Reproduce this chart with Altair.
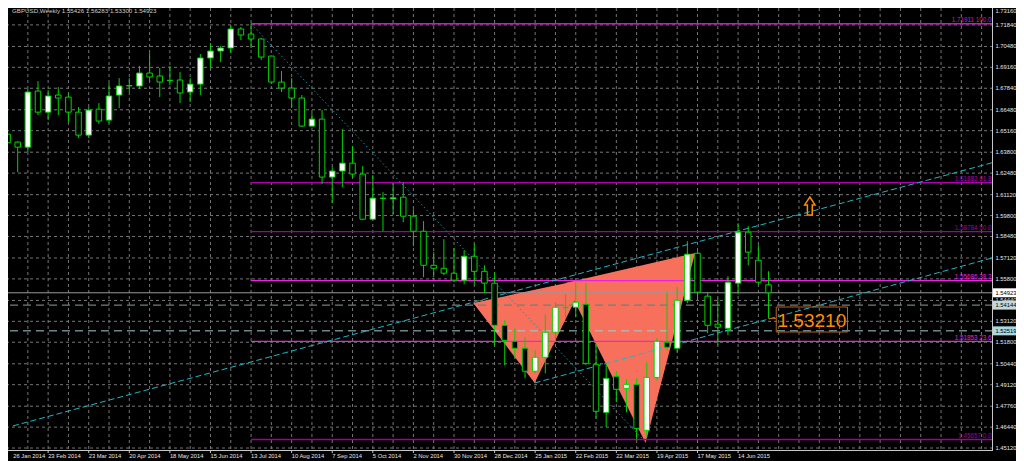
import altair as alt
import pandas as pd

# ---------------- data ----------------
opens = [1.6494, 1.6444, 1.6412, 1.6766, 1.6633, 1.6741, 1.6728, 1.6633, 1.6488, 1.6652,
         1.6583, 1.6741, 1.6801, 1.6798, 1.6880, 1.6861, 1.6834, 1.6836, 1.6760, 1.6810,
         1.6975, 1.7019, 1.7038, 1.7158, 1.7126, 1.7095, 1.6987, 1.6823, 1.6785, 1.6722,
         1.6545, 1.6589, 1.6223, 1.6261, 1.6311, 1.6242, 1.5957, 1.6090, 1.6085, 1.6096,
         1.5976, 1.5881, 1.5666, 1.5647, 1.5616, 1.5572, 1.5723, 1.5628, 1.5553, 1.5287,
         1.5186, 1.5142, 1.4997, 1.5085, 1.5243, 1.5398, 1.5401, 1.5420, 1.5041, 1.4737,
         1.4965, 1.4889, 1.4914, 1.4624, 1.4958, 1.5180, 1.5142, 1.5445, 1.5742, 1.5471,
         1.5294, 1.5268, 1.5553, 1.5875, 1.5698, 1.55426]
highs = [1.6627, 1.6450, 1.6779, 1.6829, 1.6772, 1.6791, 1.6753, 1.6665, 1.6665, 1.6690,
         1.6817, 1.6848, 1.6848, 1.6924, 1.7006, 1.6912, 1.6924, 1.6886, 1.6848, 1.7000,
         1.7070, 1.7051, 1.7183, 1.7171, 1.71911, 1.7100, 1.6990, 1.6893, 1.6848, 1.6741,
         1.6627, 1.6646, 1.6286, 1.6526, 1.6419, 1.6292, 1.6235, 1.6128, 1.6185, 1.6191,
         1.6020, 1.5945, 1.5749, 1.5831, 1.5774, 1.5761, 1.5799, 1.5666, 1.5622, 1.5319,
         1.5268, 1.5211, 1.5129, 1.5357, 1.5433, 1.5483, 1.5559, 1.5553, 1.5173, 1.5047,
         1.4997, 1.4946, 1.4952, 1.5053, 1.5205, 1.5496, 1.5528, 1.5818, 1.5755, 1.5496,
         1.5458, 1.5597, 1.5932, 1.5913, 1.5793, 1.56283]
lows = [1.6420, 1.6254, 1.6381, 1.6614, 1.6583, 1.6614, 1.6570, 1.6469, 1.6469, 1.6558,
        1.6564, 1.6659, 1.6760, 1.6779, 1.6823, 1.6728, 1.6804, 1.6690, 1.6697, 1.6741,
        1.6912, 1.6949, 1.7006, 1.7088, 1.7038, 1.6962, 1.6810, 1.6760, 1.6659, 1.6539,
        1.6539, 1.6178, 1.6058, 1.6159, 1.6223, 1.5951, 1.5951, 1.5881, 1.5989, 1.5938,
        1.5787, 1.5591, 1.5591, 1.5603, 1.5559, 1.5546, 1.5546, 1.5490, 1.5161, 1.5034,
        1.5079, 1.4952, 1.4984, 1.4984, 1.5192, 1.5332, 1.5338, 1.5034, 1.4700, 1.4643,
        1.4801, 1.4737, 1.45657, 1.4580, 1.4939, 1.5129, 1.5116, 1.5426, 1.5445, 1.5237,
        1.5161, 1.5224, 1.5483, 1.5666, 1.5546, 1.53300]
closes = [1.6440, 1.6412, 1.6760, 1.6633, 1.6735, 1.6722, 1.6633, 1.6488, 1.6646, 1.6577,
          1.6735, 1.6798, 1.6799, 1.6880, 1.6855, 1.6823, 1.6832, 1.6754, 1.6810, 1.6975,
          1.7019, 1.7038, 1.7158, 1.7120, 1.7095, 1.6981, 1.6823, 1.6785, 1.6722, 1.6545,
          1.6589, 1.6223, 1.6261, 1.6311, 1.6242, 1.5957, 1.6090, 1.6088, 1.6092, 1.5976,
          1.5881, 1.5666, 1.5647, 1.5616, 1.5572, 1.5723, 1.5628, 1.5553, 1.5287, 1.5192,
          1.5142, 1.4997, 1.5085, 1.5243, 1.5401, 1.5401, 1.5433, 1.5047, 1.4744, 1.4952,
          1.4883, 1.4914, 1.4636, 1.4958, 1.5186, 1.5148, 1.5445, 1.5736, 1.5496, 1.5287,
          1.5275, 1.5559, 1.5875, 1.5749, 1.5559, 1.54923]

# bottom axis labels (candle index -> date)
date_tick_index = [0, 4, 8, 12, 16, 20, 24, 28, 32, 36, 40, 44, 48, 52, 56, 60, 64, 68, 72]
date_tick_text = ["26 Jan 2014", "23 Feb 2014", "23 Mar 2014", "20 Apr 2014", "18 May 2014",
                  "15 Jun 2014", "13 Jul 2014", "10 Aug 2014", "7 Sep 2014", "5 Oct 2014",
                  "2 Nov 2014", "30 Nov 2014", "28 Dec 2014", "25 Jan 2015", "22 Feb 2015",
                  "22 Mar 2015", "19 Apr 2015", "17 May 2015", "14 Jun 2015"]
# vertical grid every two candles
grid_index = list(range(0, 98, 2))

# right axis labels
price_ticks = [1.73160, 1.71840, 1.70480, 1.69160, 1.67840, 1.66480, 1.65160, 1.63800,
               1.62480, 1.61120, 1.59800, 1.58480, 1.57120, 1.55800, 1.54440, 1.53120,
               1.51800, 1.50440, 1.49120, 1.47760, 1.46440, 1.45120]

# Fibonacci levels
fib_levels = [1.71911, 1.61882, 1.58784, 1.55686, 1.51853, 1.45657]
fib_tags = ["100.0", "61.8", "50.0", "38.2", "23.6", "0.0"]
fib_colors = ["#d014d0", "#b000b0", "#a000a0", "#ec22e0", "#ec22e0", "#a000a0"]
fib_start_index = 24

# harmonic pattern triangles: vertices as (candle index, price)
tri_index = [[45.90, 51.95, 56.93], [54.98, 62.88, 67.76]]
tri_price = [[1.54278, 1.49226, 1.55793], [1.55540, 1.45436, 1.57435]]

# channel (dashed cyan) lines: start/end
chan_index = [[0.537, 97.02], [51.95, 97.02]]
chan_price = [[1.46516, 1.63132], [1.49226, 1.57120]]

# dotted diagonal
diag_index = [24.0, 62.68]
diag_price = [1.71911, 1.45630]

# horizontal price lines and their right-axis boxes
hline_price = [1.54923, 1.54144, 1.52519]
hline_label = ["1.54923", "1.54144", "1.52519"]

# orange price label and arrow
label_value = "1.53210"
label_index = [75.76, 82.78]
label_price = [1.52447, 1.54025]
arrow_index = 79.07
arrow_price = 1.60404

title_text = "GBPUSD,Weekly  1.55426 1.56283 1.53300 1.54923"

# ---------------- layout ----------------
W, H = 985, 443          # plot area (svg total must stay <= 1008 px wide)
PADR = 1008 - W
XDOM = [0.537, 0.537 + W / 10.2505]
YDOM = [1.44932, 1.72907]
GREEN = "#00d400"
GRID = "#767676"
AXC = "#c8c8c8"
FONT = "Liberation Sans"
YLAB_FS = 5.8

xs = alt.Scale(domain=XDOM, nice=False, zero=False)
ys = alt.Scale(domain=YDOM, nice=False, zero=False)


def X(f):
    return alt.X(f, scale=xs, axis=None, title=None)


def Y(f):
    return alt.Y(f, scale=ys, axis=None, title=None)


candles = pd.DataFrame({"i": list(range(len(opens))), "open": opens, "high": highs,
                        "low": lows, "close": closes})

# ---- grid and hand-drawn axes ----
vgrid = alt.Chart(pd.DataFrame({"g": grid_index})).mark_rule(
    color=GRID, strokeWidth=1, strokeDash=[3, 3], clip=True).encode(x=X("g:Q"))
hgrid = alt.Chart(pd.DataFrame({"p": price_ticks})).mark_rule(
    color=GRID, strokeWidth=1, strokeDash=[3, 3], clip=True).encode(y=Y("p:Q"))

pt_df = pd.DataFrame({"p": price_ticks})
ylabels = alt.Chart(pt_df).transform_calculate(
    py=f"min(datum.p, {YDOM[1] - 3.2 / 1583.5:.5f})").mark_text(
    align="left", baseline="middle", font=FONT, fontSize=YLAB_FS, color="#e6e6e6").encode(
    x=alt.value(W + 2.5), y=Y("py:Q"), text=alt.Text("p:Q", format=".5f"))
yticks = alt.Chart(pt_df).mark_rule(color=AXC, strokeWidth=1, clip=True).encode(
    x=alt.value(W), x2=alt.value(W + 2), y=Y("p:Q"))

dt_df = pd.DataFrame({"i": date_tick_index, "t": date_tick_text})
xlabels = alt.Chart(dt_df).transform_calculate(
    xp=f"max(datum.i, {XDOM[0] + 0.02:.3f})").mark_text(
    align="left", baseline="top", font=FONT, fontSize=5.8, color="#e6e6e6").encode(
    x=X("xp:Q"), y=alt.value(H + 1.5), text="t:N")
xticks = alt.Chart(dt_df).mark_rule(color=AXC, strokeWidth=1, clip=False).encode(
    x=X("i:Q"), y=alt.value(H), y2=alt.value(H + 2))

axis_r = alt.Chart(pd.DataFrame({"a": [0]})).mark_rule(color=AXC, strokeWidth=1).encode(
    x=alt.value(W - 0.5), y=alt.value(0), y2=alt.value(H))
axis_b = alt.Chart(pd.DataFrame({"a": [0]})).mark_rule(color=AXC, strokeWidth=1).encode(
    x=alt.value(0), x2=alt.value(W), y=alt.value(H - 0.5))

# ---- candles ----
wicks = alt.Chart(candles).mark_rule(color=GREEN, strokeWidth=1, clip=True).encode(
    x=X("i:Q"), y=Y("low:Q"), y2="high:Q")
bodies = alt.Chart(candles).mark_bar(size=5.5, stroke=GREEN, strokeWidth=1, clip=True).encode(
    x=X("i:Q"), y=Y("open:Q"), y2="close:Q",
    fill=alt.condition("datum.close >= datum.open", alt.value("#ffffff"), alt.value("#000000")),
)

# ---- triangles as areas ----
rows = []
for t, (ix, pr) in enumerate(zip(tri_index, tri_price)):
    pts = sorted(zip(ix, pr))
    (x0, p0), (x1, p1), (x2, p2) = pts
    pe = p0 + (p2 - p0) * (x1 - x0) / (x2 - x0)
    rows += [{"t": t, "x": x0, "y": p0, "y2": p0},
             {"t": t, "x": x1, "y": p1, "y2": pe},
             {"t": t, "x": x2, "y": p2, "y2": p2}]
tri = alt.Chart(pd.DataFrame(rows)).mark_area(color="#f7705c", opacity=1, clip=True).encode(
    x=X("x:Q"), y=Y("y:Q"), y2="y2:Q", detail="t:N")

# ---- full-width horizontal lines ----
hdf = pd.DataFrame({"p": hline_price, "lab": hline_label,
                    "bg": ["#ffffff", "#c4d8d8", "#a8d8e0"]})
h_solid = alt.Chart(hdf.iloc[[0]]).mark_rule(color="#9a9a9a", strokeWidth=1).encode(y=Y("p:Q"))
h_dash1 = alt.Chart(hdf.iloc[[1]]).mark_rule(color="#6f7f7f", strokeWidth=1.3,
                                             strokeDash=[8, 5]).encode(y=Y("p:Q"))
h_dash2 = alt.Chart(hdf.iloc[[2]]).mark_rule(color="#a6ccd4", strokeWidth=1,
                                             strokeDash=[8, 5]).encode(y=Y("p:Q"))

# ---- fibonacci lines and labels ----
fdf = pd.DataFrame({"p": fib_levels, "tag": [f"{a:.5f} {b}" for a, b in zip(fib_levels, fib_tags)],
                    "s": fib_start_index, "c": fib_colors})
fib_lines = alt.Chart(fdf).mark_rule(strokeWidth=1.3, clip=True).encode(
    x=X("s:Q"), x2=alt.value(W), y=Y("p:Q"), color=alt.Color("c:N", scale=None))
fib_text = alt.Chart(fdf).mark_text(align="right", baseline="alphabetic", dy=-1.5, font=FONT,
                                    fontSize=6.3).encode(
    x=alt.value(W - 1.5), y=Y("p:Q"), text="tag:N", color=alt.Color("c:N", scale=None))

# ---- channel lines and diagonal ----
crow = []
for k, (ix, pr) in enumerate(zip(chan_index, chan_price)):
    for a, b in zip(ix, pr):
        crow.append({"k": k, "x": a, "p": b})
chan = alt.Chart(pd.DataFrame(crow)).mark_line(color="#22b4c4", strokeWidth=1, strokeDash=[6, 3],
                                               clip=True).encode(
    x=X("x:Q"), y=Y("p:Q"), detail="k:N")
diag = alt.Chart(pd.DataFrame({"x": diag_index, "p": diag_price})).mark_line(
    color="#1a8fa8", strokeWidth=1, strokeDash=[1.5, 2.5], clip=True).encode(
    x=X("x:Q"), y=Y("p:Q"))

# ---- right-axis price boxes ----
boxes = alt.Chart(hdf).mark_rect(yOffset=-4.5, y2Offset=4.5).encode(
    x=alt.value(W), x2=alt.value(W + PADR), y=Y("p:Q"), y2="p:Q",
    fill=alt.Color("bg:N", scale=None))
box_text = alt.Chart(hdf).mark_text(align="left", baseline="middle", dx=2.5, font=FONT,
                                    fontSize=YLAB_FS, color="#000000").encode(
    x=alt.value(W), y=Y("p:Q"), text="lab:N")

# ---- orange price label and arrow ----
lab_df = pd.DataFrame({"x1": [label_index[0]], "x2": [label_index[1]],
                       "y1": [label_price[0]], "y2": [label_price[1]],
                       "xm": [sum(label_index) / 2], "ym": [sum(label_price) / 2],
                       "t": [label_value], "cx": [len(opens) - 1], "cy": [lows[-1]]})
lab_box = alt.Chart(lab_df).mark_rect(fill=None, fillOpacity=0, stroke="#b8661a",
                                      strokeWidth=1).encode(
    x=X("x1:Q"), x2="x2:Q", y=Y("y1:Q"), y2="y2:Q")
lab_link = alt.Chart(lab_df).mark_rule(color="#b8661a", strokeWidth=1).encode(
    x=X("cx:Q"), x2="x1:Q", y=Y("cy:Q"))
lab_txt = alt.Chart(lab_df).mark_text(font=FONT, fontSize=19, color="#ff8c00",
                                      baseline="middle", align="center", dy=1).encode(
    x=X("xm:Q"), y=Y("ym:Q"), text="t:N")

arrow = alt.Chart(pd.DataFrame({"x": [arrow_index], "p": [arrow_price]})).mark_point(
    shape="M0,-1L0.58,-0.12L0.27,-0.12L0.27,1L-0.27,1L-0.27,-0.12L-0.58,-0.12Z",
    filled=False, stroke="#ff8c00", strokeWidth=1.5, size=324, opacity=1).encode(
    x=X("x:Q"), y=Y("p:Q"))

title = alt.Chart(pd.DataFrame({"t": [title_text]})).mark_text(
    align="left", baseline="middle", font=FONT, fontSize=6.2, color="#d0d0d0").encode(
    x=alt.value(4), y=alt.value(3), text="t:N")

chart = alt.layer(
    vgrid, hgrid, tri, h_solid, h_dash1, h_dash2, fib_lines, chan, diag,
    wicks, bodies, axis_r, axis_b, yticks, ylabels, xticks, xlabels,
    fib_text, lab_link, lab_box, lab_txt, arrow, boxes, box_text, title,
).properties(
    width=W, height=H,
    autosize=alt.AutoSizeParams(type="none"),
    padding={"left": 0, "top": 0, "right": PADR, "bottom": 10},
    background="#000000",
).configure_view(stroke=None)

chart.save("out.html", embed_options={"renderer": "svg", "actions": False})
